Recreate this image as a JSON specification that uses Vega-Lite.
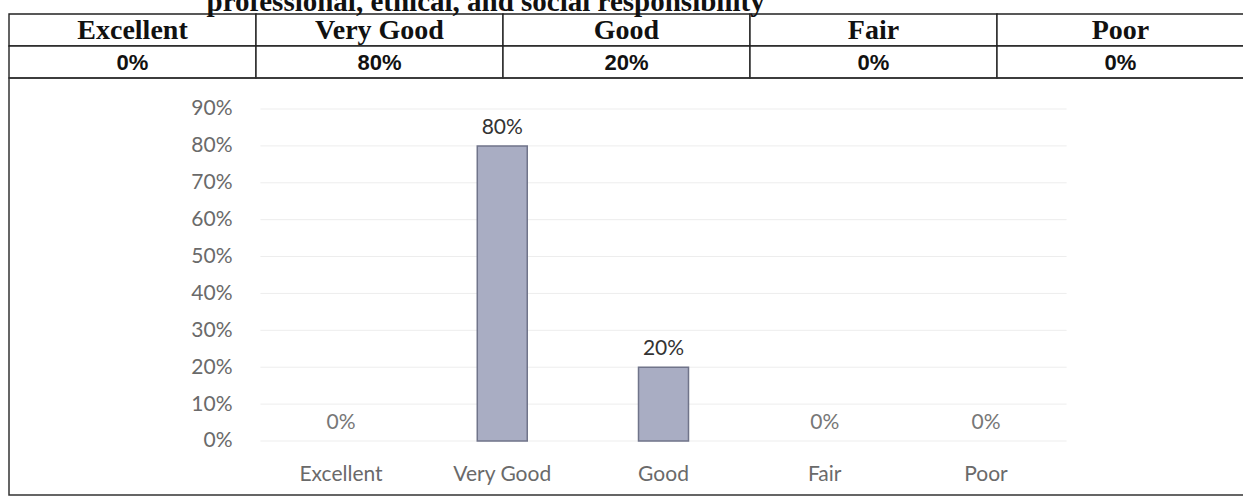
{
  "$schema": "https://vega.github.io/schema/vega-lite/v6.json",
  "padding": {"left": 8, "top": 0, "right": 0, "bottom": 2},
  "background": "white",
  "spacing": 0,
  "bounds": "flush",
  "config": {"view": {"stroke": null}, "font": "Lato"},
  "datasets": {
    "ratings": [
      {"rating": "Excellent", "pct": 0},
      {"rating": "Very Good", "pct": 0.8},
      {"rating": "Good", "pct": 0.2},
      {"rating": "Fair", "pct": 0},
      {"rating": "Poor", "pct": 0}
    ],
    "grid": [
      {"v": 0}, {"v": 0.1}, {"v": 0.2}, {"v": 0.3}, {"v": 0.4},
      {"v": 0.5}, {"v": 0.6}, {"v": 0.7}, {"v": 0.8}, {"v": 0.9}
    ]
  },
  "resolve": {"scale": {"x": "independent", "y": "independent"}},
  "vconcat": [
    {
      "width": 1235,
      "height": 78,
      "data": {"name": "ratings"},
      "layer": [
        {
          "mark": {"type": "rect", "fill": "white", "stroke": "#222", "strokeWidth": 1.4},
          "encoding": {
            "x": {"field": "rating", "type": "nominal", "sort": ["Excellent", "Very Good", "Good", "Fair", "Poor"], "scale": {"paddingInner": 0, "paddingOuter": 0}, "axis": null},
            "y": {"datum": "header", "type": "nominal", "scale": {"domain": ["header", "value"], "paddingInner": 0, "paddingOuter": 0.21875, "align": 1}, "axis": null}
          }
        },
        {
          "mark": {"type": "rect", "fill": "white", "stroke": "#222", "strokeWidth": 1.4},
          "encoding": {
            "x": {"field": "rating", "type": "nominal", "sort": ["Excellent", "Very Good", "Good", "Fair", "Poor"]},
            "y": {"datum": "value", "type": "nominal"}
          }
        },
        {
          "mark": {"type": "text", "font": "Liberation Serif", "fontWeight": "bold", "fontSize": 28, "color": "#111", "baseline": "middle", "dy": 1},
          "encoding": {
            "x": {"field": "rating", "type": "nominal", "sort": ["Excellent", "Very Good", "Good", "Fair", "Poor"]},
            "y": {"datum": "header", "type": "nominal"},
            "text": {"field": "rating"}
          }
        },
        {
          "mark": {"type": "text", "font": "Liberation Sans", "fontWeight": "bold", "fontSize": 22, "color": "#111", "baseline": "middle", "dy": 1},
          "encoding": {
            "x": {"field": "rating", "type": "nominal", "sort": ["Excellent", "Very Good", "Good", "Fair", "Poor"]},
            "y": {"datum": "value", "type": "nominal"},
            "text": {"field": "pct", "format": ".0%"}
          }
        },
        {
          "data": {"values": [{"t": "professional, ethical, and social responsibility"}]},
          "mark": {"type": "text", "clip": true, "font": "Liberation Serif", "fontWeight": "bold", "fontSize": 29, "color": "#111", "align": "left", "baseline": "alphabetic", "dy": -3},
          "encoding": {
            "x": {"datum": "Excellent", "type": "nominal", "bandPosition": 0.8},
            "y": {"datum": "header", "type": "nominal", "bandPosition": 0},
            "text": {"field": "t"}
          }
        }
      ]
    },
    {
      "width": 1235,
      "height": 417,
      "view": {"stroke": "#333", "strokeWidth": 1.5},
      "layer": [
        {
          "data": {"name": "grid"},
          "mark": {"type": "rule", "color": "#ededed", "strokeWidth": 1},
          "encoding": {
            "x": {"datum": "Excellent", "type": "nominal", "bandPosition": 0},
            "x2": {"datum": "Poor", "bandPosition": 1},
            "y": {"field": "v", "type": "quantitative"}
          }
        },
        {
          "data": {"name": "ratings"},
          "transform": [{"filter": "datum.pct > 0"}],
          "mark": {"type": "bar", "fill": "#a9adc3", "stroke": "#70748a", "strokeWidth": 1.5, "width": {"band": 0.31}},
          "encoding": {
            "x": {
              "field": "rating", "type": "nominal",
              "sort": ["Excellent", "Very Good", "Good", "Fair", "Poor"],
              "scale": {"domain": ["Excellent", "Very Good", "Good", "Fair", "Poor"], "paddingInner": 0, "paddingOuter": 0, "rangeMin": 251.4, "rangeMax": 1057.6},
              "axis": {"labelAngle": 0, "labelAlign": "center", "labelBaseline": "top", "ticks": false, "tickSize": 0, "domain": false, "grid": false, "labelPadding": 0, "offset": -32, "title": null, "labelFont": "Lato", "labelFontSize": 21, "labelColor": "#6a6a6a"}
            },
            "y": {
              "field": "pct", "type": "quantitative",
              "scale": {"domain": [-0.14639, 0.98403], "nice": false, "zero": false},
              "axis": {"values": [0, 0.1, 0.2, 0.3, 0.4, 0.5, 0.6, 0.7, 0.8, 0.9], "format": ".0%", "grid": false, "domain": false, "ticks": false, "tickSize": 0, "labelPadding": 0, "offset": -223, "title": null, "labelFont": "Lato", "labelFontSize": 21, "labelColor": "#6a6a6a"}
            },
            "y2": {"datum": 0}
          }
        },
        {
          "data": {"name": "ratings"},
          "mark": {"type": "text", "font": "Lato", "fontSize": 21, "baseline": "bottom", "dy": -8},
          "encoding": {
            "x": {"field": "rating", "type": "nominal", "sort": ["Excellent", "Very Good", "Good", "Fair", "Poor"]},
            "y": {"field": "pct", "type": "quantitative"},
            "text": {"field": "pct", "format": ".0%"},
            "color": {"condition": {"test": "datum.pct > 0", "value": "#333333"}, "value": "#777777"}
          }
        }
      ]
    }
  ]
}
